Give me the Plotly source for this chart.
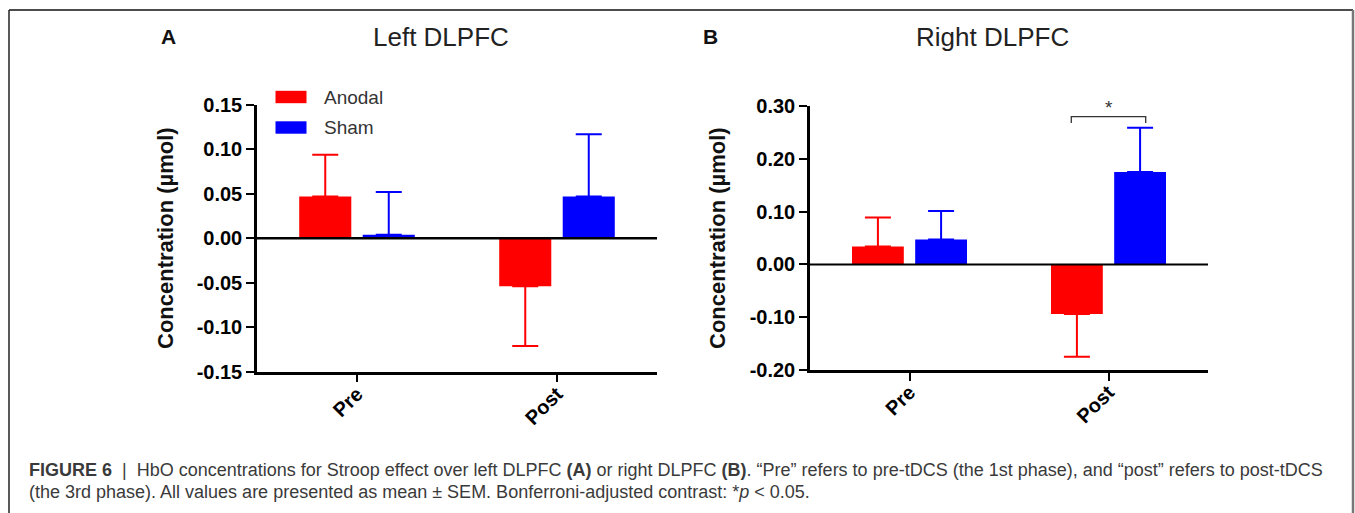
import plotly.graph_objects as go

# ---------------- data ----------------
categories = ["Pre", "Post"]
series_names = ["Anodal", "Sham"]
series_colors = ["#ff0000", "#0000ff"]

left_anodal = [0.047, -0.054]
left_anodal_sem = [0.047, 0.067]
left_sham = [0.004, 0.047]
left_sham_sem = [0.048, 0.070]

right_anodal = [0.034, -0.094]
right_anodal_sem = [0.055, 0.081]
right_sham = [0.047, 0.175]
right_sham_sem = [0.054, 0.084]

left_yticks = [-0.15, -0.10, -0.05, 0.00, 0.05, 0.10, 0.15]
right_yticks = [-0.20, -0.10, 0.00, 0.10, 0.20, 0.30]

panel_titles = ["Left DLPFC", "Right DLPFC"]
panel_letters = ["A", "B"]
y_title = "Concentration (µmol)"

sig_text = "*"
sig_category = "Post"

caption_line1 = ("<b>FIGURE 6</b>  |  HbO concentrations for Stroop effect over left DLPFC <b>(A)</b> "
                 "or right DLPFC <b>(B)</b>. “Pre” refers to pre-tDCS (the 1st phase), and “post” refers to post-tDCS")
caption_line2 = ("(the 3rd phase). All values are presented as mean ± SEM. Bonferroni-adjusted contrast: "
                 "*<i>p</i> &lt; 0.05.")

# ---------------- layout helpers ----------------
W, H = 1355, 513
FONT = "Liberation Sans, Arial, sans-serif"


def px(x):
    return x / W


def py(y):
    return 1 - y / H


fig = go.Figure()

panels = [
    dict(xa="x", ya="y", means=[left_anodal, left_sham], sems=[left_anodal_sem, left_sham_sem]),
    dict(xa="x2", ya="y2", means=[right_anodal, right_sham], sems=[right_anodal_sem, right_sham_sem]),
]

for p in panels:
    for name, color, vals, sem in zip(series_names, series_colors, p["means"], p["sems"]):
        up = [e if v >= 0 else 0 for v, e in zip(vals, sem)]
        down = [e if v < 0 else 0 for v, e in zip(vals, sem)]
        fig.add_trace(go.Bar(
            x=categories, y=vals, name=name, xaxis=p["xa"], yaxis=p["ya"],
            marker=dict(color=color, line=dict(width=0)),
            error_y=dict(type="data", symmetric=False, array=up, arrayminus=down,
                         color=color, thickness=2, width=13),
            showlegend=False, hoverinfo="skip",
        ))

axis_common = dict(showline=True, linecolor="black", linewidth=2.5, ticks="outside",
                   ticklen=8, tickwidth=2, tickcolor="black", showgrid=False,
                   zeroline=False, automargin=False,
                   tickfont=dict(family=FONT, size=20, color="black", weight="bold"))

fig.update_layout(
    width=W, height=H, template="none",
    margin=dict(l=0, r=0, t=0, b=0),
    paper_bgcolor="white", plot_bgcolor="white",
    barmode="group", bargap=0.365, bargroupgap=0.18,
    showlegend=False,
    xaxis=dict(domain=[px(257), px(657)], anchor="y", type="category",
               range=[-0.5, 1.5], tickangle=-45, ticklabelstandoff=-8, **axis_common),
    yaxis=dict(domain=[py(371.7), py(105)], anchor="x", range=[left_yticks[0], left_yticks[-1]],
               tickmode="array", tickvals=left_yticks,
               ticktext=[f"{v:.2f}" for v in left_yticks], **axis_common),
    xaxis2=dict(domain=[px(810), px(1208)], anchor="y2", type="category",
                range=[-0.5, 1.5], tickangle=-45, ticklabelstandoff=-8, **axis_common),
    yaxis2=dict(domain=[py(370), py(106)], anchor="x2", range=[right_yticks[0], right_yticks[-1]],
                tickmode="array", tickvals=right_yticks,
                ticktext=[f"{v:.2f}" for v in right_yticks], **axis_common),
)

shapes = []
# zero lines
for xa, ya, w in [("x", "y", 2.5), ("x2", "y2", 2)]:
    shapes.append(dict(type="line", xref=f"{xa} domain", yref=ya, x0=0, x1=1, y0=0, y1=0,
                       line=dict(color="black", width=w), layer="above"))

# significance bracket in right panel (between bar centres of the Post group)
off = 0.187
ci = categories.index(sig_category)
top = max(v + e for v, e in zip(right_sham, right_sham_sem)) + 0.021
drop = 0.012
shapes.append(dict(type="path", xref="x2", yref="y2",
                   path=f"M {ci - off},{top - drop} L {ci - off},{top} L {ci + off},{top} L {ci + off},{top - drop}",
                   line=dict(color="#333333", width=1.3)))

# legend swatches
for i, color in enumerate(series_colors):
    yc = 97 + 30.5 * i
    shapes.append(dict(type="rect", xref="paper", yref="paper",
                       x0=px(275.5), x1=px(306.5), y0=py(yc + 6.2), y1=py(yc - 6.2),
                       fillcolor=color, line=dict(width=0)))

# figure frame
shapes.append(dict(type="line", xref="paper", yref="paper", x0=px(9), x1=px(1353), y0=py(10), y1=py(10),
                   line=dict(color="#111111", width=1.5)))
shapes.append(dict(type="line", xref="paper", yref="paper", x0=px(9), x1=px(9), y0=py(10), y1=py(520),
                   line=dict(color="#222222", width=1.5)))
shapes.append(dict(type="line", xref="paper", yref="paper", x0=px(1353), x1=px(1353), y0=py(10), y1=py(520),
                   line=dict(color="#777777", width=2.5)))

annotations = []
# panel titles & letters
for t, xc in zip(panel_titles, [441, 993]):
    annotations.append(dict(text=t, x=px(xc), y=py(37), xref="paper", yref="paper",
                            showarrow=False, xanchor="center", yanchor="middle",
                            font=dict(family=FONT, size=26, color="#222222")))
for t, xc in zip(panel_letters, [168, 710]):
    annotations.append(dict(text=f"<b>{t}</b>", x=px(xc), y=py(36), xref="paper", yref="paper",
                            showarrow=False, xanchor="center", yanchor="middle",
                            font=dict(family=FONT, size=21, color="#111111")))
# y axis titles
for xc in [165, 717]:
    annotations.append(dict(text=f"<b>{y_title}</b>", x=px(xc), y=py(238), xref="paper", yref="paper",
                            showarrow=False, textangle=-90, xanchor="center", yanchor="middle",
                            font=dict(family=FONT, size=22, color="#111111")))
# legend labels
for i, name in enumerate(series_names):
    annotations.append(dict(text=name, x=px(321.5), y=py(97 + 30.5 * i), xref="paper", yref="paper",
                            showarrow=False, xanchor="left", yanchor="middle",
                            font=dict(family=FONT, size=19, color="#333333")))
# significance star
annotations.append(dict(text=sig_text, x=ci, y=top, xref="x2", yref="y2", showarrow=False,
                        xanchor="center", yanchor="bottom", yshift=-3,
                        font=dict(family=FONT, size=19, color="#333333")))
# caption
annotations.append(dict(text=caption_line1, x=px(27), y=py(470), xref="paper", yref="paper",
                        showarrow=False, xanchor="left", yanchor="middle", align="left",
                        font=dict(family=FONT, size=18, color="#3a3a3a")))
annotations.append(dict(text=caption_line2, x=px(27), y=py(492), xref="paper", yref="paper",
                        showarrow=False, xanchor="left", yanchor="middle", align="left",
                        font=dict(family=FONT, size=18, color="#3a3a3a")))

fig.update_layout(shapes=shapes, annotations=annotations)

fig.write_html("out.html", config={"displayModeBar": False},
               post_script="document.body.style.margin='0';document.body.style.overflow='hidden';")
